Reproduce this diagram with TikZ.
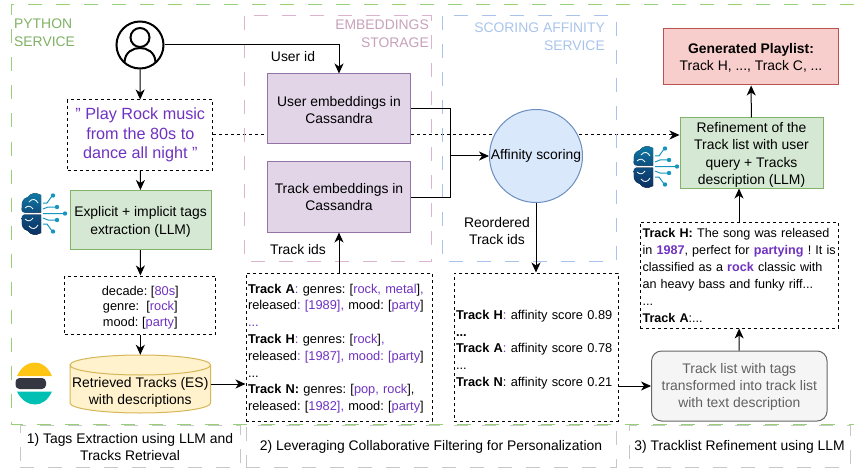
\documentclass[tikz,border=0pt]{standalone}
\usepackage{fontspec}
\setmainfont{Liberation Sans}
\usetikzlibrary{arrows.meta,backgrounds}

\definecolor{purpletext}{HTML}{6F32C0}
\definecolor{framegreen}{HTML}{97D077}
\definecolor{framepink}{HTML}{DDB3CF}
\definecolor{frameblue}{HTML}{A9C4EB}
\definecolor{brainlight}{HTML}{0F7BA6}
\definecolor{brainmid}{HTML}{0D4F80}
\definecolor{braindark}{HTML}{0B2F5E}
\definecolor{circuit}{HTML}{1695BE}
\definecolor{greenfill}{HTML}{D5E8D4}
\definecolor{greenline}{HTML}{82B366}
\definecolor{purplefill}{HTML}{E1D5E7}
\definecolor{purpleline}{HTML}{9673A6}
\definecolor{bluefill}{HTML}{DAE8FC}
\definecolor{blueline}{HTML}{6C8EBF}
\definecolor{redfill}{HTML}{F8CECC}
\definecolor{redline}{HTML}{B85450}
\definecolor{yellowfill}{HTML}{FFF2CC}
\definecolor{yellowline}{HTML}{D6B656}
\definecolor{esyellow}{HTML}{FEC514}
\definecolor{esdark}{HTML}{343741}
\definecolor{esteal}{HTML}{00BFB3}
\newcommand{\pur}[1]{\textcolor{purpletext}{#1}}
\newcommand{\lift}[1]{\rule{0pt}{#1pt}}

\tikzset{
	base/.style = {font=\frenchspacing\fontsize{13.9}{17.2}\selectfont, align=center, inner sep=0pt},
	small/.style = {font=\frenchspacing\fontsize{12.8}{16.8}\selectfont, align=left, inner sep=0pt},
	arrow/.style = {-{Stealth[length=10pt,width=9pt,inset=3pt]}, line width=1pt},
	frame/.style = {dash pattern=on 14pt off 14pt, line width=1pt},
	dotbox/.style = {draw=black, dash pattern=on 3pt off 3pt, line width=1pt},
	fillbox/.style = {base, draw, line width=1pt},
	greenbox/.style = {fillbox, draw=greenline, fill=greenfill},
	purplebox/.style = {fillbox, draw=purpleline, fill=purplefill},
	caption/.style = {base, draw=black!22, dash pattern=on 14pt off 14pt, line width=1pt}
}

% brain with circuits, origin is its upper left corner
\newcommand{\brainicon}[2]{
	\begin{scope}[shift={(#1,#2)}]
		\fill[top color=brainlight, bottom color=brainmid] (20,19.5) -- (20,2) .. controls (15,-1) and (9,0) .. (7,4) .. controls (2,5) and (0,10) .. (1,14) .. controls (0,17) and (1,19.5) .. (4,19.5) -- cycle;
		\fill[top color=brainmid, bottom color=braindark] (20,21.5) -- (20,40) .. controls (15,43) and (9,42) .. (7,38) .. controls (2,37) and (0,32) .. (1,28) .. controls (0,25) and (1,21.5) .. (4,21.5) -- cycle;
		\draw[white, line width=0.8pt] (8,9) .. controls (11,5) and (15,6) .. (17,10) (4,15) .. controls (7,12) and (10,13) .. (12,16);
		\draw[white, line width=0.8pt] (8,33) .. controls (11,37) and (15,36) .. (17,32) (4,26) .. controls (7,29) and (10,28) .. (12,25);
		\draw[circuit, line width=1pt] (22,20.5) -- (42,20.5) (22,16) -- (27,14) -- (35,14) (22,10) -- (26,10) -- (31,3) (22,25) -- (27,27) -- (35,27) (22,31) -- (26,31) -- (31,38);
		\fill[circuit] (44,20.5) circle (2.2) (36,14) circle (2.2) (32,2.5) circle (2.2) (36,27) circle (2.2) (32,38.5) circle (2.2);
	\end{scope}
}

\begin{document}
\begin{tikzpicture}[x=1pt, y=-1pt]
	\useasboundingbox (0,0) rectangle (854,468);

	% service frames
	\draw[frame, draw=framegreen] (854,4.5) -- (11,4.5) -- (11,424) -- (854,424);
	\draw[frame, draw=framepink] (244,16) rectangle (431,261);
	\draw[frame, draw=frameblue] (442,16) rectangle (616,261);

	\node[base, align=left, anchor=north west, text=framegreen!85!black] (pythonlabel) at (14,19) {PYTHON\\SERVICE};
	\node[base, align=right, anchor=north east, text=framepink!90!black] (storagelabel) at (429,20) {EMBEDDINGS\\STORAGE};
	\node[base, align=right, anchor=north east, text=frameblue] (scoringlabel) at (605,23) {SCORING AFFINITY\\SERVICE};

	% user icon
	\node[circle, draw=black, line width=2pt, minimum size=47pt, inner sep=0pt] (usericon) at (140,45) {};
	\node[circle, draw=black, line width=2pt, minimum size=19pt, inner sep=0pt] (userhead) at (140,37.5) {};
	\draw[line width=2pt] (124.5,62) .. controls (125,52) and (133,48) .. (140,48) .. controls (147,48) and (155,52) .. (155.5,62);

	% first column
	\node[dotbox, base, minimum width=145pt, minimum height=70pt, text=purpletext, font=\frenchspacing\fontsize{16.2}{19.7}\selectfont] (query) at (140.3,135) {" Play Rock music\\from the 80s to\\dance all night "};
	\node[greenbox, minimum width=141pt, minimum height=59pt] (llmbox) at (140.5,220) {\lift{14}Explicit + implicit tags\\extraction (LLM)};
	\node[dotbox, small, align=center, minimum width=151pt, minimum height=58pt, font=\frenchspacing\fontsize{12.8}{15.5}\selectfont] (tagsbox) at (140.3,305) {\lift{14}decade: [\pur{80s}]\\genre:\ \ [\pur{rock}]\\mood: [\pur{party}]};
	\draw[line width=1pt, draw=yellowline, fill=yellowfill] (70,365) -- (70,403) arc[start angle=180, end angle=0, x radius=70.3, y radius=10] -- (210.6,365) arc[start angle=0, end angle=-180, x radius=70.3, y radius=10] -- cycle (70,365) arc[start angle=180, end angle=0, x radius=70.3, y radius=10];
	\node[base, minimum width=140.6pt, minimum height=58pt] (esdb) at (140.3,384) {\lift{27}Retrieved Tracks (ES)\\with descriptions};
	\brainicon{21}{193}
	\fill[esyellow] (17,376) .. controls (21,367) and (28,362.5) .. (35,362.5) .. controls (42,362.5) and (48,367) .. (52,376) -- cycle;
	\fill[esdark, rounded corners=4pt] (15.5,378) rectangle (46,389);
	\fill[esteal] (17,391.5) .. controls (21,400) and (28,404.5) .. (35,404.5) .. controls (42,404.5) and (48,400) .. (52,391.5) -- cycle;

	% embeddings
	\node[purplebox, minimum width=143pt, minimum height=70pt] (userbox) at (339,109) {\lift{12}User embeddings in\\Cassandra};
	\node[purplebox, minimum width=143pt, minimum height=70pt] (trackbox) at (339,197) {Track embeddings in\\Cassandra};
	\node[dotbox, small, minimum width=186pt, minimum height=148pt, text width=182pt, inner sep=2pt] (tracksbox) at (339,347) {\lift{12.6}\textbf{Track A}\pur{:} genres: [\pur{rock, metal}]\pur{,}\\released\pur{: [1989],} mood: [\pur{party}]\\\pur{...}\\\textbf{Track H}\pur{:} genres: [\pur{rock}]\pur{,}\\released\pur{: [1987], mood: [party}]\\...\\\textbf{Track N:} genres: [\pur{pop, rock}],\\released: [\pur{1982],} mood: [\pur{party}]};
	\node[base] (useridlabel) at (293,57) {User id};
	\node[base] (trackidslabel) at (298,250) {Track ids};

	% scoring
	\node[fillbox, circle, draw=blueline, fill=bluefill, minimum size=93pt] (affinity) at (536,156) {Affinity scoring};
	\node[base] (reorderedlabel) at (497,231) {Reordered\\Track ids};
	\node[dotbox, small, minimum width=164pt, minimum height=148pt, text width=160pt, inner sep=2pt] (scores) at (536,347) {\lift{14.6}\textbf{Track H}\pur{:} affinity score 0.89\\\textbf{...}\\\textbf{Track A}\pur{:} affinity score 0.78\\...\\\textbf{Track N}: affinity score 0.21};

	% refinement
	\node[fillbox, draw=redline, fill=redfill, minimum width=175pt, minimum height=56pt] (playlist) at (751,57) {\lift{12}\textbf{Generated Playlist:}\\Track H, ..., Track C, ...};
	\node[greenbox, minimum width=143pt, minimum height=70pt] (refine) at (751.5,153) {\lift{14}Refinement of the\\Track list with user\\query + Tracks\\description (LLM)};
	\node[dotbox, small, minimum width=198pt, minimum height=106pt, text width=196pt, inner sep=1pt, font=\frenchspacing\fontsize{12.6}{17}\selectfont] (trackdesc) at (739,275) {\hspace{1.5pt}\textbf{Track H:} The song was released\\\hspace{1.5pt}in \pur{\textbf{1987}}, perfect for \pur{\textbf{partying}} ! It is\\\hspace{1.5pt}classified as a \pur{\textbf{rock}} classic with\\\hspace{1.5pt}an heavy bass and funky riff...\\\hspace{1.5pt}...\\\hspace{1.5pt}\textbf{Track A}:...};
	\node[fillbox, draw=black!60, fill=black!4, text=black!62, rounded corners=10pt, minimum width=175.5pt, minimum height=70pt] (rewrite) at (739.3,386) {\lift{12}Track list with tags\\transformed into track list\\with text description};
	\brainicon{633}{146}

	% captions
	\node[caption, minimum width=220pt, minimum height=42pt] (captionone) at (130,446) {\lift{12}1) Tags Extraction using LLM and\\Tracks Retrieval};
	\node[caption, minimum width=370pt, minimum height=42pt] (captiontwo) at (431,446) {\lift{12}2) Leveraging Collaborative Filtering for Personalization};
	\node[caption, minimum width=221pt, minimum height=42pt] (captionthree) at (739.5,446) {\lift{12}3) Tracklist Refinement using LLM};

	% connectors
	\coordinate (merge) at (450,156);
	\draw[arrow] (usericon) -- (query);
	\draw[arrow] (query) -- (llmbox);
	\draw[arrow] (llmbox) -- (tagsbox);
	\draw[arrow] (tagsbox) -- (esdb.north);
	\draw[arrow] (esdb.east |- 0,384) -- (tracksbox.west |- 0,384);
	\draw[arrow] (usericon) -| (userbox);
	\draw[arrow] (tracksbox) -- (trackbox);
	\draw[line width=1pt] (userbox.east) -| (merge);
	\draw[line width=1pt] (trackbox.east) -| (merge);
	\draw[arrow] (merge) -- (affinity);
	\draw[arrow] (affinity) -- (scores);
	\draw[arrow] (scores.east |- rewrite.west) -- (rewrite.west);
	\draw[arrow] (rewrite) -- (trackdesc);
	\draw[arrow] (trackdesc.north) -- (trackdesc.north |- refine.south);
	\draw[arrow] (refine) -- (playlist);
	\begin{scope}[on background layer]
		\draw[arrow, dash pattern=on 3pt off 3pt] (query.east) -- (query.east -| refine.west);
	\end{scope}
\end{tikzpicture}
\end{document}
